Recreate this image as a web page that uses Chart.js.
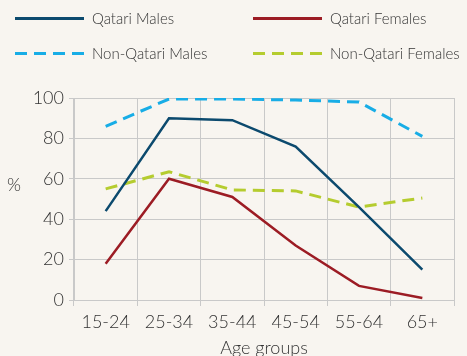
<!DOCTYPE html>
<html>
<head>
<meta charset="utf-8">
<script src="https://cdn.jsdelivr.net/npm/chart.js@4/dist/chart.umd.min.js"></script>
<style>
  html, body { margin: 0; padding: 0; background: #f8f5f0; }
  #wrap { position: relative; width: 467px; height: 356px; font-family: Lato, "Liberation Sans", sans-serif; font-weight: 300; color: #333; }
  #chart { position: absolute; left: 0; top: 0; }
  .leg { position: absolute; display: flex; align-items: center; font-size: 15px; white-space: nowrap; }
  .leg .swatch { width: 69px; height: 3px; margin-right: 8px; }
</style>
</head>
<body>
<div id="wrap">
  <canvas id="chart" width="467" height="356"></canvas>
  <div id="legend"></div>
</div>
<script>
const ageGroups = ["15-24", "25-34", "35-44", "45-54", "55-64", "65+"];
const qatariMales = [44, 90, 89, 76, 46, 15];
const qatariFemales = [18, 60, 51, 27, 7, 1];
const nonQatariMales = [86, 99.5, 99.5, 99, 98, 81];
const nonQatariFemales = [55, 63.5, 54.5, 54, 46, 50.5];
const yTicks = [0, 20, 40, 60, 80, 100];

const series = [
  { label: "Qatari Males", data: qatariMales, color: "#0c4a6e", dash: [] },
  { label: "Qatari Females", data: qatariFemales, color: "#9c1c24", dash: [] },
  { label: "Non-Qatari Males", data: nonQatariMales, color: "#18ade6", dash: [12, 7] },
  { label: "Non-Qatari Females", data: nonQatariFemales, color: "#b5cc2f", dash: [12, 7] },
];

// two-column legend above the plot
const legendSpots = [[15, 18], [253, 18], [15, 53], [253, 53]];
const legendEl = document.getElementById("legend");
series.forEach((s, i) => {
  const item = document.createElement("div");
  item.className = "leg";
  item.style.left = legendSpots[i][0] + "px";
  item.style.top = (legendSpots[i][1] - 10) + "px";
  item.style.height = "20px";
  const sw = document.createElement("span");
  sw.className = "swatch";
  sw.style.background = s.dash.length
    ? `repeating-linear-gradient(to right, ${s.color} 0 12px, transparent 12px 19px)`
    : s.color;
  item.appendChild(sw);
  item.appendChild(document.createTextNode(s.label));
  legendEl.appendChild(item);
});

const textColor = "#333";
const gridColor = "#c9c9c9";
const fontFamily = "Lato, 'Liberation Sans', sans-serif";
const tickFont = { family: fontFamily, size: 18, weight: 300 };

const percentLabel = {
  id: "percentLabel",
  afterDraw(chart) {
    const { ctx, chartArea } = chart;
    ctx.save();
    ctx.font = "300 18px " + fontFamily;
    ctx.fillStyle = textColor;
    ctx.textAlign = "center";
    ctx.textBaseline = "middle";
    ctx.fillText("%", 14, chartArea.top + (chartArea.bottom - chartArea.top) * 0.43);
    ctx.restore();
  },
};

new Chart(document.getElementById("chart"), {
  type: "line",
  data: {
    labels: ageGroups,
    datasets: series.map((s) => ({
      label: s.label,
      data: s.data,
      borderColor: s.color,
      backgroundColor: s.color,
      borderWidth: s.dash.length ? 3 : 2.5,
      borderDash: s.dash,
      pointRadius: 0,
      tension: 0,
    })),
  },
  options: {
    responsive: false,
    animation: false,
    layout: { padding: { top: 98, right: 13, left: 0, bottom: 0 } },
    plugins: { legend: { display: false }, tooltip: { enabled: false } },
    scales: {
      x: {
        offset: true,
        grid: { offset: true, color: gridColor, tickColor: gridColor, tickLength: 6 },
        border: { color: gridColor },
        ticks: { color: textColor, font: tickFont, padding: 5, maxRotation: 0 },
        title: { display: true, text: "Age groups", color: textColor, font: tickFont, padding: { top: 4, bottom: -3 } },
        afterFit(scale) { scale.height = 56; },
      },
      y: {
        min: 0,
        max: 100,
        afterBuildTicks(scale) { scale.ticks = yTicks.map((v) => ({ value: v })); },
        grid: { color: gridColor, tickColor: gridColor, tickLength: 5 },
        border: { color: gridColor },
        ticks: { color: textColor, font: tickFont, padding: 5 },
        afterFit(scale) { scale.width = 74; },
      },
    },
  },
  plugins: [percentLabel],
});
</script>
</body>
</html>
